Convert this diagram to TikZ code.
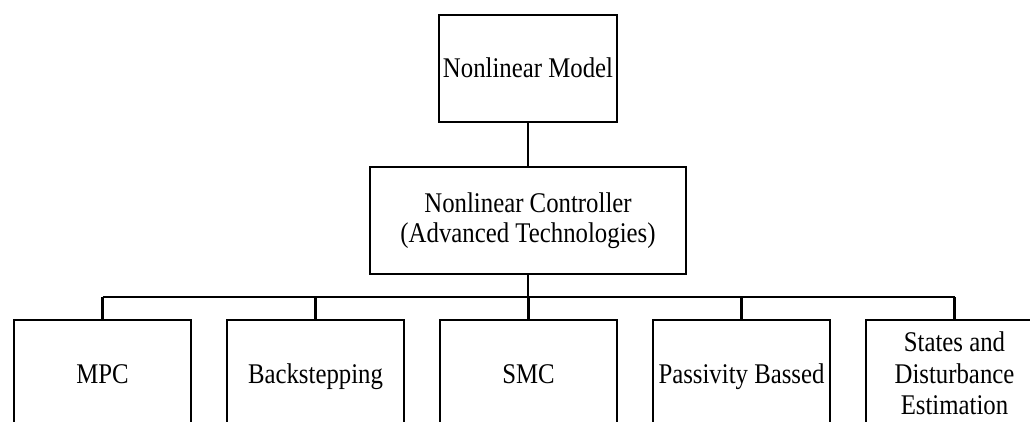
\documentclass[tikz,border=0pt]{standalone}
\usepackage{fontspec}
\setmainfont{Liberation Serif}[FakeStretch=0.87]
\begin{document}
\begin{tikzpicture}[x=1pt,y=-1pt,
  box/.style={draw=black, line width=2.3pt, fill=white, inner sep=0pt,
    minimum width=177pt, minimum height=107pt, align=center,
    font=\fontsize{28.5}{31.5}\selectfont},
  oneline/.style={text height=19pt, text depth=0pt},
  link/.style={draw=black, line width=2.4pt}]
  \useasboundingbox (0,0) rectangle (1030,422);
  \clip (0,0) rectangle (1030,422);

  % top of the hierarchy
  \node[box, oneline, minimum width=178pt] (model) at (528,68.5) {Nonlinear Model};
  \node[box, minimum width=316pt, font=\fontsize{28.5}{29.5}\selectfont] (ctrl) at (528,220.5)
    {Nonlinear Controller\\(Advanced Technologies)};

  % controller families
  \node[box, oneline] (mpc)  at (102.5,373.5) {MPC};
  \node[box, oneline] (back) at (315.5,373.5) {Backstepping};
  \node[box, oneline] (smc)  at (528.5,373.5) {SMC};
  \node[box, oneline] (pass) at (741.5,373.5) {Passivity Bassed};
  \node[box] (est)  at (954.5,373.5) {States and\\Disturbance\\Estimation};

  \coordinate (bus) at (528,297);

  % connectors
  \draw[link] (model.south) -- (ctrl.north);
  \draw[link] (ctrl.south) -- (bus);
  \draw[link] (mpc.north |- bus) -- (est.north |- bus);
  \foreach \n in {mpc,back,smc,pass,est}
    \draw[link] (\n.north |- bus) -- (\n.north);
\end{tikzpicture}
\end{document}
